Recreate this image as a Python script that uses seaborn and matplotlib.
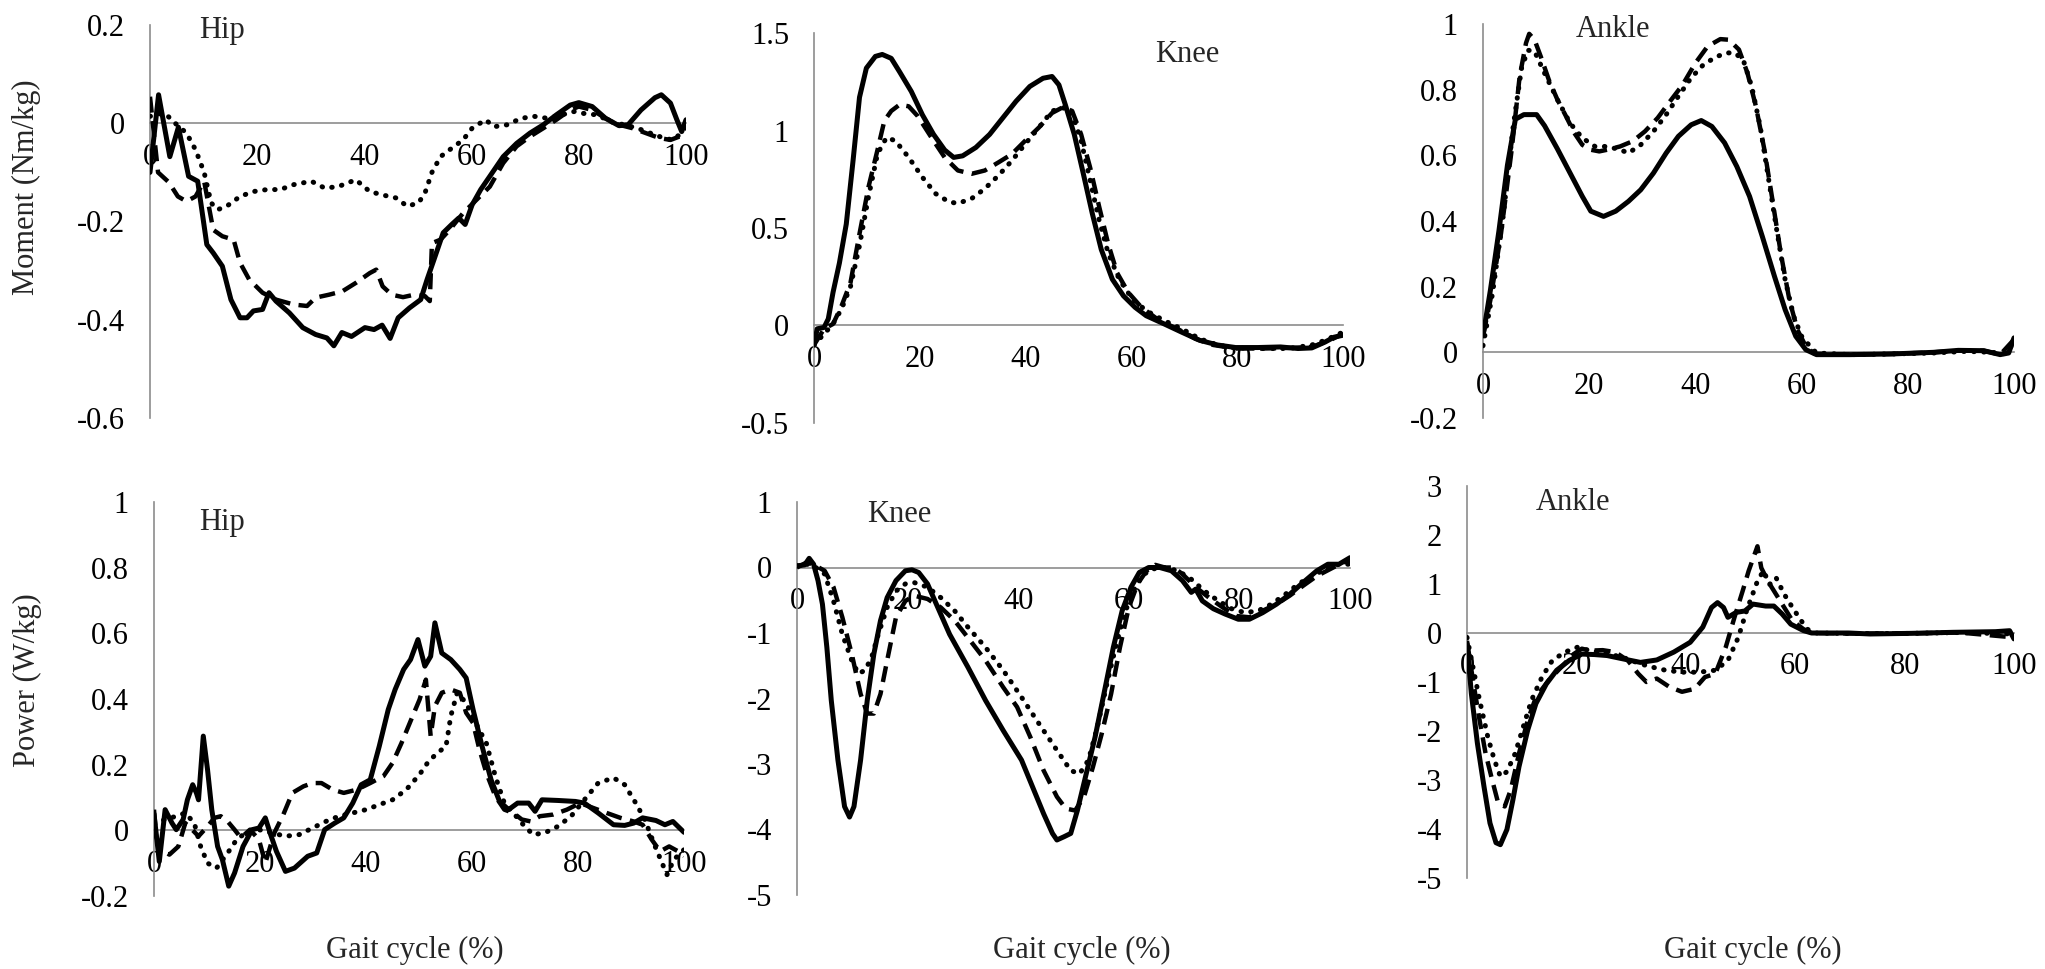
import numpy as np
import matplotlib
matplotlib.use("Agg")
import matplotlib.pyplot as plt
import seaborn as sns

# ---------------- Moment: Hip ----------------
hip_mom_solid_x = [0, 1.6, 3.7, 5.3, 7.2, 8.9, 10.6, 11.8, 13.5, 15.1, 16.8, 18.1, 19.3, 21, 22.2, 23.5, 26, 28.5, 30.9, 33,
                   34.3, 35.8, 37.6, 40.1, 41.8, 43.3, 44.8, 46.3, 48.4, 50.5, 51.7, 53, 54.7, 56.3, 57.6, 58.8, 60.1, 61.7, 63.4, 65.9,
                   68.4, 70.9, 73.4, 75.8, 78.4, 80, 82.5, 85, 87.5, 89.2, 91.6, 94.2, 95.4, 97.1, 98.3, 99.2, 100]
hip_mom_solid_y = [-0.10, 0.058, -0.068, -0.008, -0.108, -0.118, -0.247, -0.264, -0.291, -0.359, -0.396, -0.396, -0.382, -0.379, -0.345, -0.362, -0.386, -0.416, -0.43, -0.437,
                   -0.453, -0.426, -0.434, -0.416, -0.42, -0.411, -0.438, -0.396, -0.376, -0.359, -0.318, -0.277, -0.223, -0.206, -0.193, -0.206, -0.166, -0.135, -0.108, -0.068,
                   -0.041, -0.02, -0.003, 0.017, 0.037, 0.042, 0.034, 0.01, -0.005, -0.003, 0.027, 0.052, 0.058, 0.041, 0.007, -0.017, 0.007]
hip_mom_dash_x = [0, 1.5, 3.5, 5.2, 6.8, 8.5, 10.1, 11.8, 13.5, 15.6, 16.8, 18.5, 21, 23.5, 26.8, 29.3, 30.9, 33.4, 35.9, 38.4,
                  41, 42.2, 43.4, 45.1, 47.2, 49.3, 51.3, 52.2, 52.6, 54.2, 55.9, 58.4, 60.9, 63.4, 65.9, 68.4, 70.9, 73.4, 75.8, 78.4,
                  80, 82.5, 85, 87.5, 90, 92.5, 95, 97.1, 98.8, 100]
hip_mom_dash_y = [0.054, -0.1, -0.12, -0.149, -0.159, -0.149, -0.118, -0.217, -0.23, -0.237, -0.284, -0.318, -0.345, -0.359, -0.369, -0.372, -0.355, -0.349, -0.342, -0.325,
                  -0.305, -0.298, -0.332, -0.349, -0.354, -0.349, -0.352, -0.362, -0.244, -0.237, -0.217, -0.183, -0.156, -0.129, -0.081, -0.047, -0.027, -0.01, 0.007, 0.027,
                  0.034, 0.027, 0.01, -0.003, -0.01, -0.02, -0.03, -0.034, -0.027, -0.007]
hip_mom_dot_x = [0, 1.4, 3.1, 4.7, 6.8, 8.5, 10.1, 11.4, 12.6, 14.3, 16.8, 19.3, 21.8, 24.3, 26.8, 30.1, 32.6, 35.1, 38.4, 41,
                 43.4, 45.9, 48, 50.1, 51.3, 52.6, 54.2, 55.9, 58.4, 60.1, 62.6, 64.2, 66.7, 69.2, 71.7, 74.2, 76.7, 79.2, 80.9, 83.4,
                 86, 88.4, 90.9, 93.3, 95.8, 97.5, 99.2, 100]
hip_mom_dot_y = [0.014, 0.02, 0.017, 0, -0.02, -0.054, -0.1, -0.162, -0.176, -0.169, -0.149, -0.139, -0.135, -0.135, -0.125, -0.118, -0.132, -0.129, -0.115, -0.139,
                 -0.146, -0.152, -0.169, -0.162, -0.142, -0.1, -0.068, -0.054, -0.034, -0.01, 0.007, -0.007, -0.003, 0.01, 0.014, 0.01, 0.017, 0.024, 0.02, 0.017,
                 0.003, -0.003, -0.01, -0.02, -0.03, -0.034, -0.02, -0.017]

# ---------------- Moment: Knee ----------------
knee_mom_solid_x = [0, 0.6, 1.9, 2.7, 3.6, 4.8, 6.1, 7.4, 8.6, 9.9, 11.6, 12.9, 14.6, 16.2, 18.4, 20.5, 22.6, 24.7, 26.4, 28.1,
                    30.6, 33.2, 35.7, 38.2, 40.8, 43.3, 45, 46.3, 47.5, 49.2, 50.9, 52.6, 54.3, 56.4, 58.5, 60.7, 62.8, 66.2, 69.5, 72.9,
                    76.3, 79.7, 83.9, 88.2, 91.5, 94.1, 96.6, 98.3, 100]
knee_mom_solid_y = [-0.1, -0.017, -0.01, 0.034, 0.17, 0.32, 0.52, 0.85, 1.17, 1.32, 1.38, 1.39, 1.37, 1.30, 1.2, 1.08, 0.98, 0.9, 0.862, 0.87,
                    0.913, 0.98, 1.065, 1.15, 1.226, 1.268, 1.277, 1.234, 1.133, 0.98, 0.78, 0.575, 0.39, 0.237, 0.152, 0.093, 0.05, 0.008, -0.034, -0.076,
                    -0.1, -0.113, -0.113, -0.11, -0.118, -0.115, -0.085, -0.06, -0.05]
knee_mom_dash_x = [0, 1.9, 3.6, 5.2, 6.9, 8.6, 10.3, 12, 13.3, 14.6, 16.2, 17.9, 19.6, 22.2, 24.7, 27.2, 29.8, 32.3, 34.9, 37.4,
                   39.9, 42.5, 45, 47.1, 48.8, 50.5, 52.2, 53.9, 55.6, 57.3, 59.4, 61.9, 65.3, 68.7, 72.1, 75.5, 79.7, 84.8, 89.8, 94.1,
                   97.5, 100]
knee_mom_dash_y = [-0.1, -0.017, 0.008, 0.1, 0.22, 0.47, 0.71, 0.9, 1.05, 1.1, 1.133, 1.124, 1.074, 0.964, 0.862, 0.795, 0.778, 0.795, 0.837, 0.879,
                   0.947, 1.015, 1.09, 1.12, 1.1, 0.98, 0.81, 0.61, 0.42, 0.27, 0.17, 0.093, 0.025, -0.017, -0.068, -0.1, -0.118, -0.118, -0.115, -0.11,
                   -0.076, -0.042]
knee_mom_dot_x = [0, 3.6, 5.2, 6.9, 8.6, 10.3, 12, 13.7, 15.4, 17.9, 20.5, 23, 25.5, 27.2, 29.8, 32.3, 34.9, 37.4, 39.9, 42.5,
                  45, 47.1, 48.8, 50.5, 52.2, 53.9, 55.6, 57.7, 60.2, 62.8, 66.2, 69.5, 72.9, 76.3, 79.7, 84.8, 89.8, 94.1, 96.6, 100]
knee_mom_dot_y = [-0.1, 0.008, 0.085, 0.2, 0.41, 0.66, 0.88, 0.964, 0.947, 0.862, 0.76, 0.676, 0.634, 0.626, 0.651, 0.702, 0.77, 0.845, 0.93, 1.015,
                  1.1, 1.116, 1.09, 0.947, 0.744, 0.54, 0.372, 0.237, 0.135, 0.076, 0.025, -0.017, -0.068, -0.1, -0.115, -0.118, -0.118, -0.1, -0.076, -0.034]

# ---------------- Moment: Ankle ----------------
ank_mom_solid_x = [0, 1.4, 3, 4.6, 6.1, 7.7, 10.1, 11.6, 14, 16.4, 18.7, 20.3, 22.7, 25, 27.4, 29.7, 32.1, 34.5, 36.8, 39.2,
                   41.1, 43.1, 45.5, 47.8, 50.2, 52.6, 54.9, 56.9, 58.9, 60.8, 62.8, 69.1, 76.9, 84.8, 89.5, 94.3, 97.4, 99, 100]
ank_mom_solid_y = [0.05, 0.19, 0.37, 0.57, 0.71, 0.724, 0.724, 0.69, 0.62, 0.546, 0.475, 0.43, 0.414, 0.43, 0.46, 0.495, 0.546, 0.607, 0.658, 0.693,
                   0.706, 0.688, 0.638, 0.566, 0.475, 0.353, 0.231, 0.13, 0.049, 0.008, -0.007, -0.007, -0.005, 0, 0.006, 0.005, -0.007, -0.002, 0.044]
ank_mom_dash_x = [0, 1.4, 3.4, 5.4, 6.9, 8.1, 8.7, 9.7, 10.9, 12.4, 14, 15.6, 17.2, 18.7, 20.3, 21.9, 23.4, 25.8, 28.2, 30.5,
                  32.9, 35.2, 37.6, 40, 42.3, 44.7, 46.3, 48.2, 49.8, 51.4, 53, 54.5, 56.1, 57.7, 59.2, 60.8, 62.4, 69.1, 76.9, 84.8,
                  89.5, 94.3, 97.4, 100]
ank_mom_dash_y = [0.05, 0.16, 0.363, 0.617, 0.84, 0.942, 0.97, 0.952, 0.9, 0.83, 0.77, 0.72, 0.668, 0.632, 0.617, 0.612, 0.617, 0.627, 0.643, 0.673,
                  0.714, 0.764, 0.815, 0.881, 0.932, 0.954, 0.952, 0.922, 0.851, 0.749, 0.617, 0.465, 0.3, 0.16, 0.069, 0.018, -0.004, -0.007, -0.005, 0,
                  0.005, 0.005, -0.007, 0.039]
ank_mom_dot_x = [0, 1.8, 3.8, 5.7, 7.3, 8.5, 9.7, 11.6, 14, 16.4, 18.7, 21.1, 23.4, 25.8, 27.4, 29.7, 32.1, 34.5, 36.8, 39.2,
                 41.5, 43.9, 45.9, 47.4, 49, 50.6, 52.2, 53.7, 55.3, 56.9, 58.5, 60, 61.6, 62.8, 69.1, 76.9, 84.8, 91.1, 95.8, 98.2, 100]
ank_mom_dot_y = [0.02, 0.18, 0.414, 0.69, 0.87, 0.92, 0.917, 0.85, 0.77, 0.698, 0.653, 0.627, 0.627, 0.617, 0.607, 0.632, 0.673, 0.724, 0.78, 0.836,
                 0.876, 0.9, 0.912, 0.912, 0.891, 0.81, 0.688, 0.536, 0.374, 0.221, 0.11, 0.049, 0.018, -0.002, -0.007, -0.005, -0.002, 0.003, 0, -0.004, 0.028]

# ---------------- Power: Hip ----------------
hip_pow_solid_x = [0, 1, 2.1, 3.4, 4.2, 5.5, 6.3, 7.3, 8, 8.4, 9.3, 10.1, 10.9, 12, 12.9, 14.1, 15.2, 16.8, 18.5, 19.8,
                   21, 21.9, 23.1, 24.8, 26.5, 29, 30.7, 32.2, 34.1, 35.8, 37.5, 39.1, 40.8, 42.5, 44.2, 45.5, 47.1, 48.4, 49.8, 51.1,
                   52.2, 53, 54.3, 56, 57.7, 58.9, 60.2, 61.9, 63.6, 65.2, 66.9, 68.6, 70.7, 71.9, 73.2, 76.2, 79.5, 81.2, 83.8, 86.7,
                   88.8, 90.5, 92.2, 94.7, 96.4, 97.9, 100]
hip_pow_solid_y = [0.05, -0.095, 0.063, 0.022, 0.002, 0.033, 0.093, 0.139, 0.114, 0.093, 0.287, 0.185, 0.063, -0.049, -0.089, -0.17, -0.13, -0.049, 0.002, 0.007,
                   0.038, -0.008, -0.064, -0.125, -0.115, -0.079, -0.069, 0.002, 0.022, 0.038, 0.083, 0.139, 0.154, 0.256, 0.368, 0.429, 0.49, 0.52, 0.581, 0.5,
                   0.53, 0.632, 0.54, 0.52, 0.49, 0.464, 0.368, 0.256, 0.154, 0.088, 0.063, 0.083, 0.083, 0.058, 0.093, 0.091, 0.088, 0.083, 0.053, 0.017,
                   0.015, 0.022, 0.038, 0.03, 0.017, 0.027, -0.006]
hip_pow_dash_x = [0, 0.4, 1.3, 2.9, 4.6, 5.9, 7.2, 8.4, 10.1, 11.4, 12.6, 13.9, 15.2, 16.4, 18.1, 19.8, 21, 22.7, 24.4, 26.1,
                  28.2, 29.9, 31.6, 33.7, 35.8, 38.3, 40.8, 43.3, 45, 46.7, 48.8, 50.1, 51.3, 52.2, 53, 54.3, 56, 57.7, 58.9, 60.2,
                  61.4, 62.7, 64.4, 66.1, 67.8, 69.4, 71.1, 72.8, 75.3, 77.9, 80.4, 82.9, 85.4, 88, 90.5, 92.2, 93.9, 95.5, 97.2, 98.9,
                  100]
hip_pow_dash_y = [0.063, -0.018, -0.059, -0.074, -0.049, 0.022, 0.002, -0.018, 0.012, 0.038, 0.043, 0.027, 0.002, -0.023, 0.002, -0.028, -0.1, -0.008, 0.048, 0.114,
                  0.134, 0.144, 0.144, 0.124, 0.114, 0.124, 0.144, 0.165, 0.205, 0.266, 0.348, 0.398, 0.459, 0.287, 0.378, 0.419, 0.429, 0.419, 0.358, 0.327,
                  0.246, 0.175, 0.104, 0.063, 0.053, 0.033, 0.027, 0.043, 0.048, 0.063, 0.083, 0.068, 0.053, 0.038, 0.027, 0.017, -0.028, -0.064, -0.049, -0.064,
                  -0.079]
hip_pow_dot_x = [0, 2.1, 4.2, 5.9, 7.6, 8.8, 10.1, 11.8, 13.9, 15.6, 17.7, 19.8, 22.3, 24.8, 27.4, 29.9, 32.4, 34.9, 37.5, 40,
                 42.5, 45, 47.6, 50.1, 51.8, 53.5, 55.1, 56, 57.2, 58.9, 61, 62.7, 64.4, 66.1, 67.8, 69.4, 71.5, 73.7, 76.2, 78.7,
                 81.2, 83.8, 86.7, 88.8, 90.9, 92.6, 94.3, 96, 96.8, 98.1, 100]
hip_pow_dot_y = [0.022, 0.033, 0.043, 0.053, 0.022, -0.049, -0.1, -0.115, -0.069, -0.028, -0.003, 0.002, -0.008, -0.018, -0.013, 0.007, 0.027, 0.043, 0.053, 0.063,
                 0.078, 0.093, 0.124, 0.17, 0.21, 0.236, 0.256, 0.348, 0.419, 0.388, 0.317, 0.266, 0.165, 0.083, 0.053, 0.022, -0.013, -0.008, 0.012, 0.043,
                 0.093, 0.144, 0.16, 0.139, 0.083, 0.033, -0.039, -0.105, -0.135, -0.089, -0.059]

# ---------------- Power: Knee ----------------
knee_pow_solid_x = [0, 1.4, 2.2, 3, 3.8, 4.6, 5.4, 6.2, 7.4, 8.6, 9.5, 10.3, 11.5, 12.7, 13.9, 15.1, 16.3, 17.9, 19.6, 20.8,
                    22, 23.6, 25.2, 27.6, 30.9, 34.1, 37.3, 40.6, 42.6, 44.6, 46.2, 47, 48.3, 49.5, 50.7, 52.3, 53.9, 55.5, 57.2, 58.8,
                    60.4, 61.9, 63.6, 65.6, 67.7, 69.7, 71.3, 72.1, 73.3, 75.3, 77.4, 79.8, 81.8, 84.2, 86.7, 89.1, 91.5, 94, 96, 98,
                    100]
knee_pow_solid_y = [0.025, 0.04, 0.14, 0.05, -0.2, -0.56, -1.22, -2.03, -2.94, -3.65, -3.81, -3.65, -2.94, -2.03, -1.32, -0.81, -0.46, -0.2, -0.05, -0.035,
                    -0.076, -0.25, -0.56, -1.02, -1.52, -2.03, -2.49, -2.94, -3.35, -3.76, -4.06, -4.16, -4.11, -4.06, -3.71, -3.15, -2.59, -1.93, -1.22, -0.66,
                    -0.3, -0.076, 0, 0, -0.05, -0.2, -0.38, -0.33, -0.51, -0.63, -0.71, -0.79, -0.79, -0.69, -0.56, -0.41, -0.23, -0.05, 0.05, 0.05,
                    0.15]
knee_pow_dash_x = [0, 1.8, 3.4, 5, 6.6, 8.2, 9.9, 11.5, 12.7, 13.9, 15.1, 16.3, 17.9, 19.6, 21.2, 23.6, 26, 28.5, 30.9, 34.1,
                   37.3, 39.8, 42.2, 44.6, 47, 48.6, 50.3, 51.9, 53.5, 55.1, 56.8, 58.4, 60, 61.6, 63.2, 64.8, 66.5, 68.1, 69.7, 72.1,
                   74.5, 77, 79.4, 81.8, 84.2, 86.7, 89.1, 91.5, 94, 96.4, 98.8, 100]
knee_pow_dash_y = [0, 0.08, 0.025, -0.05, -0.3, -0.76, -1.32, -1.93, -2.23, -2.23, -1.93, -1.42, -0.76, -0.51, -0.43, -0.48, -0.61, -0.81, -1.07, -1.42,
                   -1.83, -2.13, -2.59, -3.1, -3.5, -3.68, -3.71, -3.5, -3.05, -2.54, -1.93, -1.22, -0.61, -0.25, -0.05, 0.04, 0, 0, -0.1, -0.3,
                   -0.46, -0.61, -0.74, -0.76, -0.66, -0.56, -0.43, -0.28, -0.13, -0.025, 0.08, 0.1]
knee_pow_dot_x = [0, 1.8, 3.4, 5, 6.6, 8.2, 9.9, 11.1, 12.3, 13.5, 14.7, 16.3, 17.9, 19.6, 21.2, 23.6, 26, 28.5, 30.9, 34.1,
                  37.3, 40.6, 43.8, 47, 49.5, 51.1, 52.7, 54.3, 55.9, 57.6, 59.2, 60.8, 62.4, 64, 66.5, 68.9, 71.3, 73.7, 76.2, 78.6,
                  81, 83.4, 85.8, 88.3, 90.7, 93.1, 95.6, 98, 100]
knee_pow_dot_y = [0.025, 0.05, 0, -0.1, -0.51, -1.02, -1.42, -1.62, -1.57, -1.37, -1.02, -0.61, -0.36, -0.25, -0.23, -0.3, -0.46, -0.66, -0.91, -1.22,
                  -1.57, -1.98, -2.39, -2.79, -3.1, -3.15, -2.94, -2.44, -1.83, -1.22, -0.71, -0.36, -0.13, -0.025, 0, -0.05, -0.18, -0.36, -0.51, -0.63,
                  -0.69, -0.66, -0.56, -0.41, -0.25, -0.13, -0.025, 0.05, 0.05]

# ---------------- Power: Ankle ----------------
ank_pow_solid_x = [0, 0.8, 1.9, 3.1, 4.2, 5.3, 6.1, 7.3, 8.4, 9.5, 11.1, 12.6, 14.5, 16.4, 18.7, 21, 23.3, 25.6, 28.6, 31.7,
                   34.7, 37.8, 40.8, 43.1, 44.7, 45.8, 46.9, 47.7, 49.2, 50.8, 52.3, 54.6, 56.1, 57.6, 59.2, 61.5, 63, 69.8, 73.7, 81.3,
                   88.9, 96.6, 99.2, 100]
ank_pow_solid_y = [-0.22, -1.24, -2.25, -3.13, -3.88, -4.28, -4.32, -4.01, -3.4, -2.73, -1.98, -1.44, -1.04, -0.76, -0.56, -0.43, -0.44, -0.46, -0.53, -0.6,
                   -0.55, -0.39, -0.19, 0.12, 0.52, 0.62, 0.52, 0.32, 0.42, 0.45, 0.59, 0.55, 0.55, 0.39, 0.18, 0.05, 0, 0, -0.02, -0.007,
                   0.014, 0.027, 0.047, -0.12]
ank_pow_dash_x = [0, 1.1, 2.3, 3.4, 4.6, 5.7, 6.9, 8, 9.5, 11.1, 12.6, 14.9, 17.2, 19.5, 21, 22.5, 24.8, 27.1, 29.4, 31.3,
                  32.8, 34.7, 37, 39.3, 41.6, 43.5, 45.4, 47.3, 48.9, 50.4, 51.5, 53.1, 53.8, 55, 56.5, 58, 59.5, 61.5, 63, 70,
                  80, 90, 100]
ank_pow_dash_y = [-0.16, -0.97, -1.78, -2.46, -3, -3.47, -3.54, -3.2, -2.46, -1.78, -1.31, -0.97, -0.7, -0.43, -0.32, -0.36, -0.35, -0.39, -0.56, -0.83,
                  -1, -0.93, -1.1, -1.2, -1.14, -0.9, -0.83, -0.29, 0.32, 0.86, 1.27, 1.77, 1.33, 1.06, 0.79, 0.52, 0.25, 0.08, 0, -0.01,
                  -0.01, 0.01, -0.09]
ank_pow_dot_x = [0, 1.1, 2.3, 3.8, 5, 6.1, 7.3, 8.8, 10.3, 11.8, 13.7, 15.6, 17.9, 20.2, 22.5, 24.8, 27.1, 29.4, 31.7, 34,
                 36.3, 39.3, 42.4, 45.4, 47.7, 49.6, 51.1, 53.1, 54.2, 55.3, 56.5, 58, 59.5, 61.1, 62.2, 63.4, 70, 80, 90, 100]
ank_pow_dot_y = [-0.09, -0.7, -1.37, -2.12, -2.59, -2.93, -2.83, -2.46, -1.91, -1.37, -0.9, -0.56, -0.39, -0.29, -0.36, -0.39, -0.46, -0.53, -0.63, -0.7,
                 -0.76, -0.8, -0.8, -0.76, -0.56, -0.09, 0.45, 1.06, 1.27, 0.99, 1.13, 0.79, 0.52, 0.25, 0.08, 0, -0.01, -0.01, 0.01, -0.02]

# eksen etiketleri
x_ticks = [0, 20, 40, 60, 80, 100]
hip_mom_ticks = [0.2, 0, -0.2, -0.4, -0.6]
knee_mom_ticks = [1.5, 1, 0.5, 0, -0.5]
ank_mom_ticks = [1, 0.8, 0.6, 0.4, 0.2, 0, -0.2]
hip_pow_ticks = [1, 0.8, 0.6, 0.4, 0.2, 0, -0.2]
knee_pow_ticks = [1, 0, -1, -2, -3, -4, -5]
ank_pow_ticks = [3, 2, 1, 0, -1, -2, -3, -4, -5]

sns.set_style("white")
plt.rcParams["font.family"] = ["Liberation Serif", "DejaVu Serif"]
plt.rcParams["axes.unicode_minus"] = False

W, H = 2045, 969
GRAY = "#8c8c8c"
FS = 22

fig = plt.figure(figsize=(W / 100, H / 100), dpi=100)

solid = dict(linestyle="-", linewidth=3.6)
dashed = dict(linestyle=(0, (3.6, 1.9)), linewidth=3.2)
dotted = dict(linestyle=(0, (0.1, 1.9)), linewidth=3.6, dash_capstyle="round")


def panel(box, curves, yticks, title, tpos):
    l, t, r, b = box
    ax = fig.add_axes([l / W, 1 - b / H, (r - l) / W, (b - t) / H])
    for (x, y), st in zip(curves, [dotted, dashed, solid]):
        sns.lineplot(x=x, y=y, ax=ax, color="black", estimator=None, sort=False, zorder=3, **st)
    ax.set_xlim(0, 100)
    ax.set_ylim(min(yticks), max(yticks))
    ax.set_xticks(x_ticks)
    ax.set_xticklabels([str(v) for v in x_ticks])
    ax.set_yticks(yticks)
    ax.set_yticklabels([f"{v:g}" for v in yticks])
    for s in ["top", "right"]:
        ax.spines[s].set_visible(False)
    ax.spines["bottom"].set_position(("data", 0))
    for s in ["left", "bottom"]:
        ax.spines[s].set_color(GRAY)
        ax.spines[s].set_linewidth(1.2)
    ax.tick_params(axis="both", direction="out", length=6, width=1.2, color=GRAY,
                   labelsize=FS, labelcolor="black")
    ax.tick_params(axis="x", pad=8)
    ax.tick_params(axis="y", pad=12)
    ax.set_xlabel("")
    ax.set_ylabel("")
    ax.text(tpos[0], tpos[1], title, transform=ax.transAxes, fontsize=FS,
            ha="left", va="center")
    return ax


# üst satır: moment
panel((150, 25, 686, 418), [(hip_mom_dot_x, hip_mom_dot_y), (hip_mom_dash_x, hip_mom_dash_y), (hip_mom_solid_x, hip_mom_solid_y)],
      hip_mom_ticks, "Hip", (0.092, 0.987))
panel((814, 33, 1343, 423), [(knee_mom_dot_x, knee_mom_dot_y), (knee_mom_dash_x, knee_mom_dash_y), (knee_mom_solid_x, knee_mom_solid_y)],
      knee_mom_ticks, "Knee", (0.645, 0.944))
panel((1483, 24, 2014, 418), [(ank_mom_dot_x, ank_mom_dot_y), (ank_mom_dash_x, ank_mom_dash_y), (ank_mom_solid_x, ank_mom_solid_y)],
      ank_mom_ticks, "Ankle", (0.175, 0.985))

# alt satır: güç
panel((154, 502, 684, 896), [(hip_pow_dot_x, hip_pow_dot_y), (hip_pow_dash_x, hip_pow_dash_y), (hip_pow_solid_x, hip_pow_solid_y)],
      hip_pow_ticks, "Hip", (0.085, 0.947))
panel((797, 502, 1350, 895), [(knee_pow_dot_x, knee_pow_dot_y), (knee_pow_dash_x, knee_pow_dash_y), (knee_pow_solid_x, knee_pow_solid_y)],
      knee_pow_ticks, "Knee", (0.127, 0.967))
panel((1467, 486, 2014, 878), [(ank_pow_dot_x, ank_pow_dot_y), (ank_pow_dash_x, ank_pow_dash_y), (ank_pow_solid_x, ank_pow_solid_y)],
      ank_pow_ticks, "Ankle", (0.126, 0.959))

fig.text(26 / W, 1 - 187 / H, "Moment (Nm/kg)", rotation=90, ha="center", va="center", fontsize=FS)
fig.text(27 / W, 1 - 680 / H, "Power (W/kg)", rotation=90, ha="center", va="center", fontsize=FS)
for cx in [415, 1082, 1753]:
    fig.text(cx / W, 1 - 950 / H, "Gait cycle (%)", ha="center", va="center", fontsize=FS)

fig.savefig("out.png", dpi=100)
